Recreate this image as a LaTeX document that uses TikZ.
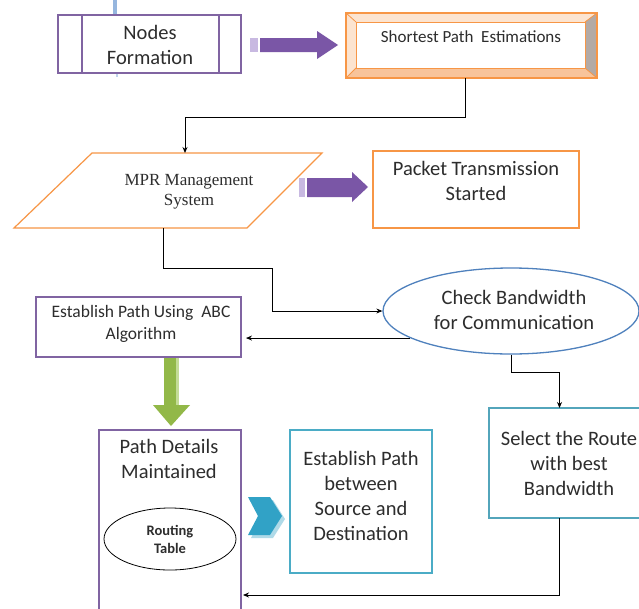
\documentclass[tikz,border=0pt]{standalone}
\usepackage{fontspec}
\setmainfont{Carlito}
\newfontfamily\mprfont{Liberation Serif}
\usetikzlibrary{arrows.meta,shapes.geometric,fit,calc}
\definecolor{purp}{RGB}{128,100,162}
\definecolor{purpfill}{RGB}{122,86,166}
\definecolor{purplight}{RGB}{200,185,225}
\definecolor{orng}{RGB}{247,150,70}
\definecolor{orngpale}{RGB}{252,228,208}
\definecolor{orngmid}{RGB}{248,196,155}
\definecolor{bevelgray}{RGB}{180,170,165}
\definecolor{teal}{RGB}{75,172,198}
\definecolor{ellblue}{RGB}{79,129,189}
\definecolor{grn}{RGB}{146,184,72}
\definecolor{grnlight}{RGB}{196,220,150}
\definecolor{chev}{RGB}{49,162,198}
\definecolor{chevlight}{RGB}{175,218,232}
\definecolor{txtgray}{RGB}{45,45,45}
\definecolor{faintblue}{RGB}{150,182,222}
\begin{document}
\begin{tikzpicture}[x=1pt,y=-1pt,
  boxfit/.style={inner sep=0pt, outer sep=0pt, line width=1.2pt},
  txt/.style={font=\fontsize{20.5}{25}\selectfont, text=txtgray, align=center, inner sep=0pt},
  smalltxt/.style={font=\fontsize{17.5}{22}\selectfont, text=txtgray, align=center, inner sep=0pt},
  conn/.style={draw=black, line width=0.9pt, -{Stealth[length=6pt,width=5pt]}}]
\useasboundingbox (0,0) rectangle (639,608);
\fill[white] (0,0) rectangle (639,608);

% faint blue marks
\draw[faintblue, line width=3.5pt] (115,0) -- (115,14);
\draw[faintblue!60, line width=2pt] (117,74) -- (117,77);

% Nodes Formation (predefined process)
\node[boxfit, draw=purp, fit={(58,15) (241,73)}] (nf) {};
\draw[purp, line width=1.2pt] (82,15) -- (82,73) (219,15) -- (219,73);
\node[txt] (nft) at (150,45) {Nodes\\Formation};

% purple block arrow 1
\fill[purplight] (250,38) rectangle (258,52);
\fill[purpfill] (260,38) -- (317,38) -- (317,31) -- (338,45) -- (317,59) -- (317,52) -- (260,52) -- cycle;

% Shortest Path Estimations (bevel)
\fill[orngpale] (346,13) rectangle (597,78);
\fill[orngmid] (346,78) -- (356,68) -- (585,68) -- (597,78) -- cycle;
\fill[bevelgray] (597,13) -- (585,22) -- (585,68) -- (597,78) -- cycle;
\fill[white] (356,22) rectangle (585,68);
\draw[orng, line width=1.2pt] (346,13) rectangle (597,78);
\draw[orng, line width=0.8pt] (356,22) rectangle (585,68);
\draw[orng, line width=0.8pt] (346,13) -- (356,22) (597,13) -- (585,22) (346,78) -- (356,68) (597,78) -- (585,68);
\node[boxfit, fit={(346,13) (597,78)}] (sp) {};
\node[smalltxt, font=\fontsize{17}{20}\selectfont] (spt) at (471,37) {Shortest Path\ \ Estimations};

% MPR Management System (parallelogram)
\draw[orng, line width=1.2pt, fill=white] (92,153) -- (322,153) -- (247,228) -- (14,228) -- cycle;
\coordinate (mprtop) at (185,153);
\coordinate (mprbot) at (163,228);
\node[font=\mprfont\fontsize{17}{20}\selectfont, text=txtgray, align=center, inner sep=0pt] (mpr) at (189,192) {MPR Management\\System};

% purple block arrow 2
\fill[purplight] (299,178) rectangle (305,197);
\fill[purpfill] (307,178) -- (352,178) -- (352,172) -- (368,187) -- (352,202) -- (352,197) -- (307,197) -- cycle;

% Packet Transmission Started
\node[boxfit, draw=orng, fit={(373,151) (579,228)}] (pt) {};
\node[txt] (ptt) at (476,181) {Packet Transmission\\Started};

% Check Bandwidth ellipse
\node[ellipse, draw=ellblue, line width=1.3pt, fill=white, minimum width=256pt, minimum height=86pt, inner sep=0pt] (cb) at (511,311) {};
\node[txt] (cbt) at (514,310) {Check Bandwidth\\for Communication};

% Establish Path Using ABC Algorithm
\node[boxfit, draw=purp, fit={(36,297) (241,357)}] (ea) {};
\node[smalltxt] (eat) at (141,324) {Establish Path Using\ \ ABC\\Algorithm};

% green block arrow
\fill[grn] (164,358) -- (176,358) -- (176,405) -- (190,405) -- (171,426) -- (153,405) -- (164,405) -- cycle;
\fill[grnlight] (176,358) -- (179,358) -- (179,405) -- (176,405) -- cycle;

% Select the Route box
\node[boxfit, draw=teal!85!gray, fit={(489,408) (652,518)}] (sr) {};
\node[txt] (srt) at (569,463) {Select the Route\\with best\\Bandwidth};

% Path Details Maintained
\node[boxfit, draw=purp, fit={(99,430) (241,620)}] (pd) {};
\node[txt] (pdt) at (169,459) {Path Details\\Maintained};
\node[ellipse, draw=black, line width=0.8pt, minimum width=132pt, minimum height=62pt, inner sep=0pt] (rt) at (170,539) {};
\node[font=\bfseries\fontsize{14.5}{18}\selectfont, text=txtgray, align=center, inner sep=0pt] (rtt) at (170,539) {Routing\\Table};

% chevron
\fill[chevlight] (251,500) -- (273,500) -- (285,519) -- (273,538) -- (251,538) -- (261,519) -- cycle;
\fill[chev] (248,497) -- (270,497) -- (282,516) -- (270,535) -- (248,535) -- (258,516) -- cycle;

% Establish Path between Source and Destination
\node[boxfit, draw=teal, fit={(290,430) (432,573)}] (eb) {};
\node[txt] (ebt) at (361,496) {Establish Path\\between\\Source and\\Destination};

% connectors
\draw[conn] ([xshift=-6.5pt]sp.south) |- (185,117) -- (mprtop);
\draw[conn] (mprbot) |- (272,268) |- (cb.west);
\draw[conn, shorten >=5pt] (cb.195) -- (cb.195 -| ea.east);
\draw[conn] (cb.south) -- ++(0,18) -| ([xshift=-11pt]sr.north);
\draw[conn, shorten >=2pt] ([xshift=-11pt]sr.south) |- (pd.east |- 0,595);
\end{tikzpicture}
\end{document}
